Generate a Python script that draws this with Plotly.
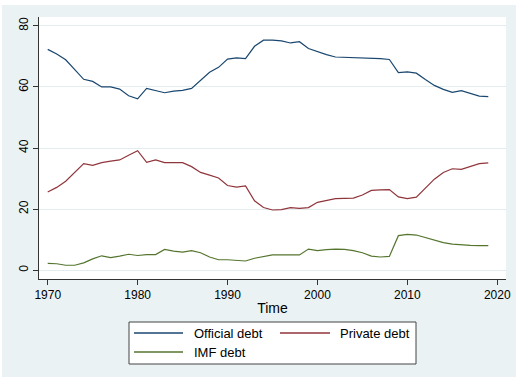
import plotly.graph_objects as go

years = list(range(1970, 2020))
official_debt = [72.3, 70.8, 68.9, 65.7, 62.5, 61.8, 60.0, 60.0, 59.3, 57.1,
                 56.1, 59.5, 58.8, 58.1, 58.6, 58.9, 59.5, 62.0, 64.8, 66.4,
                 69.1, 69.5, 69.3, 73.3, 75.3, 75.3, 75.1, 74.4, 74.8, 72.6,
                 71.5, 70.6, 69.8, 69.7, 69.7, 69.6, 69.3, 69.3, 69.0, 64.7,
                 64.9, 64.5, 62.4, 60.5, 59.2, 58.2, 58.8, 58.0, 57.0, 56.8]
private_debt = [25.6, 27.1, 29.1, 32.0, 34.9, 34.3, 35.2, 35.7, 36.1, 37.6,
                39.1, 35.3, 36.1, 35.2, 35.2, 35.2, 33.9, 32.0, 31.1, 30.2,
                27.7, 27.2, 27.6, 22.7, 20.5, 19.7, 19.8, 20.5, 20.2, 20.5,
                22.2, 22.9, 23.4, 23.5, 23.6, 24.6, 26.1, 26.3, 26.4, 24.0,
                23.4, 23.9, 26.9, 29.8, 32.0, 33.2, 33.0, 34.0, 34.9, 35.1]
imf_debt = [2.2, 2.1, 1.6, 1.6, 2.4, 3.7, 4.7, 4.1, 4.6, 5.2,
            4.8, 5.1, 5.1, 6.8, 6.2, 5.9, 6.4, 5.7, 4.3, 3.4,
            3.4, 3.3, 3.0, 3.9, 4.5, 5.0, 5.0, 4.9, 5.0, 6.9,
            6.4, 6.7, 6.9, 6.8, 6.4, 5.7, 4.6, 4.3, 4.5, 11.3,
            11.7, 11.5, 10.7, 9.7, 9.0, 8.5, 8.2, 8.1, 8.0, 8.0]

series_names = ["Official debt", "Private debt", "IMF debt"]
series_colors = ["#1A476F", "#90353B", "#55752F"]
x_ticks = [1970, 1980, 1990, 2000, 2010, 2020]
y_ticks = [0, 20, 40, 60, 80]

W, H = 523, 382
ML, MR, MT, MB = 39, 17, 17, 103
PW, PH = W - ML - MR, H - MT - MB


def px(x):
    return (x - ML) / PW


def py(y):
    return (H - MB - y) / PH


fig = go.Figure()
for name, vals, col in zip(series_names, [official_debt, private_debt, imf_debt], series_colors):
    fig.add_trace(go.Scatter(x=years, y=vals, mode="lines", name=name,
                             line=dict(color=col, width=1.2), showlegend=False))

font = dict(family="Liberation Sans, Arial, sans-serif", size=12, color="#000000")

fig.update_layout(
    width=W, height=H,
    margin=dict(l=ML, r=MR, t=MT, b=MB),
    paper_bgcolor="#EAF2F3",
    plot_bgcolor="#FFFFFF",
    font=font,
    showlegend=False,
    xaxis=dict(range=[1969.03, 2020.97], tickvals=x_ticks, showgrid=False, zeroline=False,
               showline=True, linecolor="#333333", linewidth=1,
               ticks="outside", ticklen=5, tickcolor="#333333",
               title=dict(text="Time", standoff=1), tickfont=font),
    yaxis=dict(range=[-2.9, 82.9], tickvals=y_ticks, showgrid=True, gridcolor="#E3ECEE",
               gridwidth=1, zeroline=False,
               showline=True, linecolor="#333333", linewidth=1,
               ticks="outside", ticklen=5, tickcolor="#333333",
               tickangle=-90, tickfont=font),
)

shapes = []
# white outer border
for (x0, y0, x1, y1) in [(0, 0, W, 5), (0, 377, W, H), (0, 0, 2, H), (516, 0, W, H)]:
    shapes.append(dict(type="rect", xref="paper", yref="paper",
                       x0=px(x0), x1=px(x1), y0=py(y1), y1=py(y0),
                       fillcolor="#FFFFFF", line=dict(width=0), layer="above"))
# legend box
shapes.append(dict(type="rect", xref="paper", yref="paper",
                   x0=px(129), x1=px(416), y0=py(364), y1=py(322),
                   fillcolor="#FFFFFF", line=dict(color="#444444", width=1)))
legend_pos = [(134, 183, 333, 192), (280, 330, 333, 338), (134, 183, 352, 192)]
annotations = []
for (lx0, lx1, ly, tx), name, col in zip(legend_pos, series_names, series_colors):
    shapes.append(dict(type="line", xref="paper", yref="paper",
                       x0=px(lx0), x1=px(lx1), y0=py(ly), y1=py(ly),
                       line=dict(color=col, width=1.5)))
    annotations.append(dict(xref="paper", yref="paper", x=px(tx), y=py(ly),
                            text=name, showarrow=False, xanchor="left", yanchor="middle",
                            font=dict(family="Liberation Sans, Arial, sans-serif", size=13, color="#000000")))

fig.update_layout(shapes=shapes, annotations=annotations)
fig.write_html("out.html", config={"displayModeBar": False},
               post_script="document.body.style.margin='0';document.body.style.overflow='hidden';")
